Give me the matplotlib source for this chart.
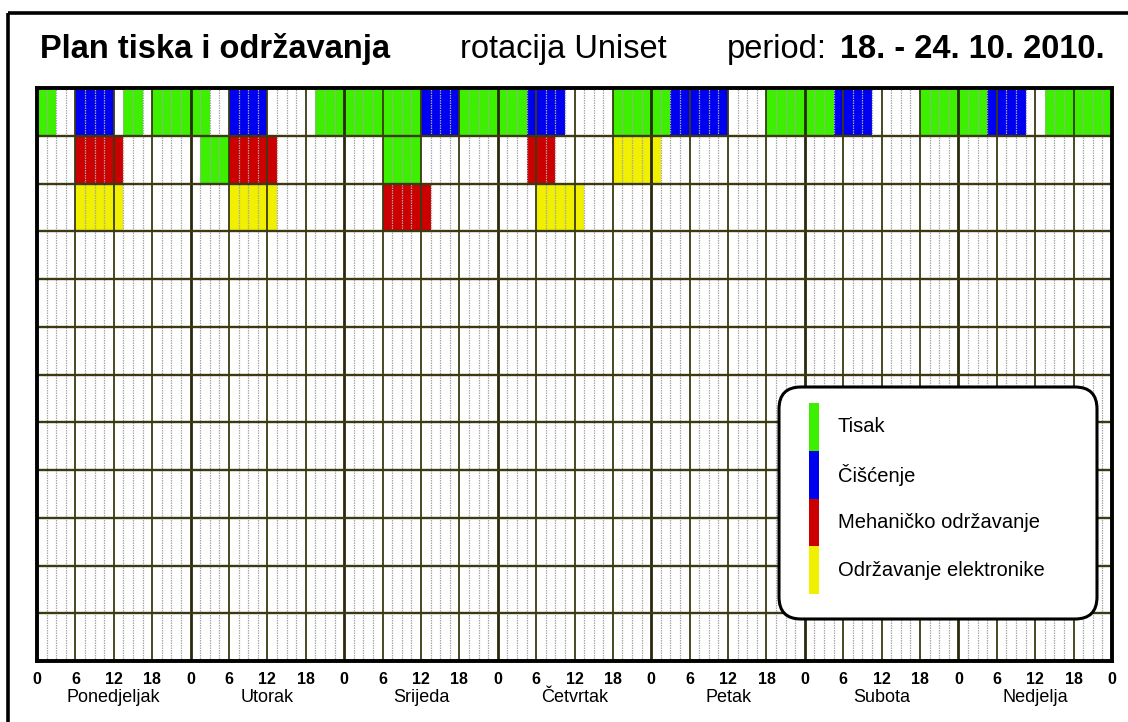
import matplotlib
matplotlib.use('Agg')
import matplotlib.pyplot as plt
import numpy as np
from matplotlib.patches import FancyBboxPatch, Rectangle

plt.rcParams['font.family'] = ['Liberation Sans', 'DejaVu Sans']

# ---------------- data ----------------
days = ['Ponedjeljak', 'Utorak', 'Srijeda', 'Četvrtak', 'Petak', 'Subota', 'Nedjelja']
hour_labels = ['0', '6', '12', '18']
categories = ['Tisak', 'Čišćenje', 'Mehaničko održavanje', 'Održavanje elektronike']
cat_colors = ['#3cf000', '#0000f0', '#cc0000', '#f0f000']

# row 1 (hours from Monday 0:00), category index
row1_start = [0, 6, 13.5, 18, 30, 43.5, 60, 66, 76.5, 90, 99, 114, 124.5, 138, 148.5, 157.5]
row1_end = [3, 12, 16.5, 27, 36, 60, 66, 76.5, 82.5, 99, 108, 124.5, 130.5, 148.5, 154.5, 168]
row1_cat = [0, 1, 0, 0, 1, 0, 1, 0, 1, 0, 1, 0, 1, 0, 1, 0]

row2_start = [6, 25.5, 30, 54, 76.5, 90]
row2_end = [13.5, 30, 37.5, 60, 81, 97.5]
row2_cat = [2, 0, 2, 0, 2, 3]

row3_start = [6, 30, 54, 78]
row3_end = [13.5, 37.5, 61.5, 85.5]
row3_cat = [3, 3, 2, 3]

n_rows = 12
n_hours = 168

# ---------------- figure ----------------
W, H = 1128, 722
fig = plt.figure(figsize=(W / 100, H / 100), dpi=100)
fig.patch.set_facecolor('white')

L, R, T, B = 37, 1112, 88, 661
ax = fig.add_axes([L / W, 1 - B / H, (R - L) / W, (B - T) / H])
ax.set_xlim(0, n_hours)
ax.set_ylim(n_rows, 0)

rows = [(row1_start, row1_end, row1_cat),
        (row2_start, row2_end, row2_cat),
        (row3_start, row3_end, row3_cat)]
for ri, (s, e, c) in enumerate(rows):
    s = np.array(s); e = np.array(e)
    ax.barh([ri + 0.5] * len(s), e - s, left=s, height=1.0,
            color=[cat_colors[k] for k in c], linewidth=0, zorder=1)

grid_c = '#3b3a12'
for h in np.arange(1.5, n_hours, 1.5):
    if h % 6 != 0:
        ax.axvline(h, color='#a8a8a8', lw=0.9, ls=(0, (1.2, 0.8)), zorder=2)
for h in range(6, n_hours, 6):
    if h % 24 != 0:
        ax.axvline(h, color=grid_c, lw=1.3, zorder=3)
for d in range(24, n_hours, 24):
    ax.axvline(d, color='#2a290c', lw=2.0, zorder=3)
for r in range(1, n_rows):
    ax.axhline(r, color=grid_c, lw=1.7, zorder=3)

for sp in ax.spines.values():
    sp.set_linewidth(2.8)
    sp.set_color('black')
    sp.set_zorder(5)

ticks = list(range(0, n_hours + 1, 6))
ax.set_xticks(ticks)
ax.set_xticklabels([hour_labels[(t // 6) % 4] for t in ticks],
                   fontsize=11.5, fontweight='bold')
ax.tick_params(axis='x', length=0, pad=8)
ax.set_yticks([])

for i, d in enumerate(days):
    ax.text(i * 24 + 12, -0.0716, d, transform=ax.get_xaxis_transform(),
            ha='center', va='baseline', fontsize=13)

# ---------------- overlay (titles, legend, border) ----------------
ov = fig.add_axes([0, 0, 1, 1], zorder=10)
ov.set_xlim(0, W)
ov.set_ylim(H, 0)
ov.axis('off')
ov.patch.set_alpha(0)

ov.add_patch(Rectangle((8, 13), 1200, 800, fill=False, lw=2.6, ec='black'))

ov.text(40, 58, 'Plan tiska i održavanja', fontsize=23.5, fontweight='bold', va='baseline')
ov.text(460, 58, 'rotacija Uniset', fontsize=23.5, va='baseline')
ov.text(727, 58, 'period:', fontsize=23.5, va='baseline')
ov.text(840, 58, '18. - 24. 10. 2010.', fontsize=23.5, fontweight='bold', va='baseline')

ov.add_patch(FancyBboxPatch((779, 387), 318, 232,
                            boxstyle='round,pad=0,rounding_size=22',
                            fc='white', ec='black', lw=2.2))
seg = 47.75
for i, (lab, col) in enumerate(zip(categories, cat_colors)):
    ov.add_patch(Rectangle((809, 403 + i * seg), 9.5, seg, fc=col, ec='none'))
    ov.text(838, 403 + (i + 0.5) * seg, lab, fontsize=14.5, va='center', ha='left')

fig.savefig('out.png', dpi=100)
